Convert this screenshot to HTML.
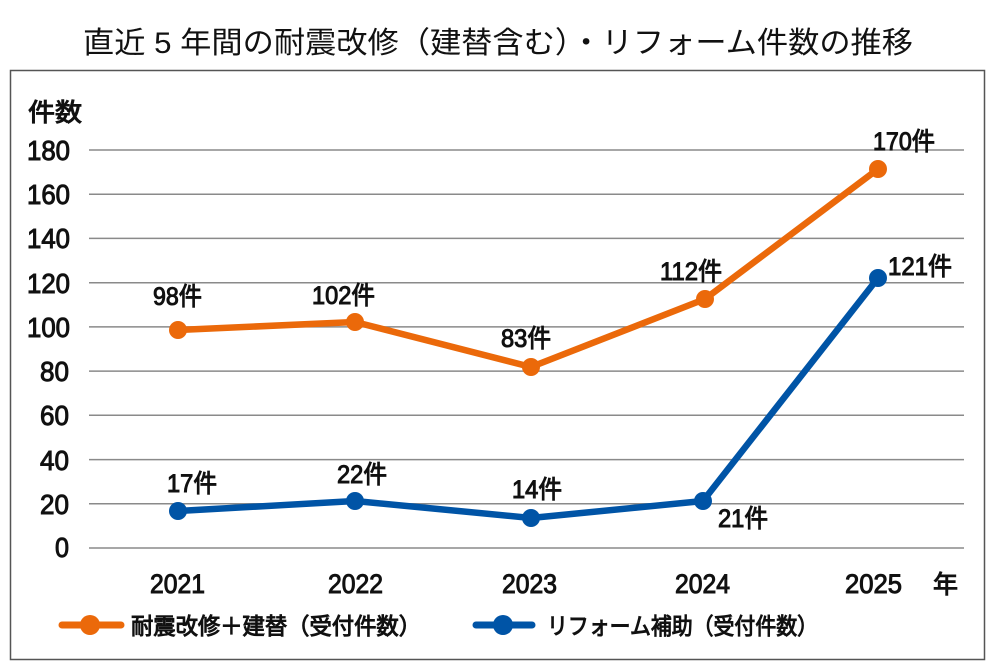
<!DOCTYPE html>
<html><head><meta charset="utf-8"><style>
html,body{margin:0;padding:0;background:#fff;}
svg{display:block;}
.t{font-family:"Liberation Sans","Noto Sans CJK JP",sans-serif;fill:#111;}
.m{stroke:#111;stroke-width:1.0;}
</style></head><body>
<svg width="1000" height="667" viewBox="0 0 1000 667" xmlns="http://www.w3.org/2000/svg">
<rect x="0" y="0" width="1000" height="667" fill="#fff"/>
<text class="t" x="83" y="53" font-size="30" textLength="830" lengthAdjust="spacingAndGlyphs" fill="#222">直近 5 年間の耐震改修（建替含む）・リフォーム件数の推移</text>
<rect x="10.5" y="70.5" width="974" height="589" fill="none" stroke="#555" stroke-width="1.5"/>
<g stroke="#8a8a8a" stroke-width="1.5">
<line x1="89" x2="964" y1="150" y2="150"/>
<line x1="89" x2="964" y1="194.2" y2="194.2"/>
<line x1="89" x2="964" y1="238.4" y2="238.4"/>
<line x1="89" x2="964" y1="282.7" y2="282.7"/>
<line x1="89" x2="964" y1="326.9" y2="326.9"/>
<line x1="89" x2="964" y1="371.1" y2="371.1"/>
<line x1="89" x2="964" y1="415.3" y2="415.3"/>
<line x1="89" x2="964" y1="459.6" y2="459.6"/>
<line x1="89" x2="964" y1="503.8" y2="503.8"/>
<line x1="89" x2="964" y1="548" y2="548"/>
</g>
<text class="t m" x="28" y="121" font-size="25" textLength="54" lengthAdjust="spacingAndGlyphs">件数</text>
<g class="t m" font-size="28">
<text x="27" y="160" textLength="43" lengthAdjust="spacingAndGlyphs">180</text>
<text x="27" y="204" textLength="43" lengthAdjust="spacingAndGlyphs">160</text>
<text x="27" y="248" textLength="43" lengthAdjust="spacingAndGlyphs">140</text>
<text x="27" y="293" textLength="43" lengthAdjust="spacingAndGlyphs">120</text>
<text x="27" y="337" textLength="43" lengthAdjust="spacingAndGlyphs">100</text>
<text x="40" y="381" textLength="29" lengthAdjust="spacingAndGlyphs">80</text>
<text x="40" y="425" textLength="29" lengthAdjust="spacingAndGlyphs">60</text>
<text x="40" y="470" textLength="29" lengthAdjust="spacingAndGlyphs">40</text>
<text x="40" y="514" textLength="29" lengthAdjust="spacingAndGlyphs">20</text>
<text x="55" y="557" textLength="14" lengthAdjust="spacingAndGlyphs">0</text>
</g>
<g class="t m" font-size="27">
<text x="150" y="593" textLength="55" lengthAdjust="spacingAndGlyphs">2021</text>
<text x="328" y="593" textLength="55" lengthAdjust="spacingAndGlyphs">2022</text>
<text x="502" y="593" textLength="55" lengthAdjust="spacingAndGlyphs">2023</text>
<text x="675" y="593" textLength="55" lengthAdjust="spacingAndGlyphs">2024</text>
<text x="845" y="593" textLength="57" lengthAdjust="spacingAndGlyphs">2025</text>
<text x="933" y="593" font-size="25">年</text>
</g>
<polyline points="178,330 355,322 531,367 705,299 878,169" fill="none" stroke="#EB690A" stroke-width="6.5" stroke-linejoin="round"/>
<g fill="#EB690A">
<circle cx="178" cy="330" r="9"/><circle cx="355" cy="322" r="9"/><circle cx="531" cy="367" r="9"/><circle cx="705" cy="299" r="9"/><circle cx="878" cy="169" r="9"/>
</g>
<polyline points="178,511 355,501 531,518 703,501 878,278" fill="none" stroke="#0054A6" stroke-width="6.5" stroke-linejoin="round"/>
<g fill="#0054A6">
<circle cx="178" cy="511" r="9"/><circle cx="355" cy="501" r="9"/><circle cx="531" cy="518" r="9"/><circle cx="703" cy="501" r="9"/><circle cx="878" cy="278" r="9"/>
</g>
<g class="t m" font-size="25">
<text x="153" y="305" textLength="49" lengthAdjust="spacingAndGlyphs">98件</text>
<text x="312" y="304" textLength="63" lengthAdjust="spacingAndGlyphs">102件</text>
<text x="501" y="347" textLength="50" lengthAdjust="spacingAndGlyphs">83件</text>
<text x="660" y="280" textLength="62" lengthAdjust="spacingAndGlyphs">112件</text>
<text x="873" y="150" textLength="62" lengthAdjust="spacingAndGlyphs">170件</text>
<text x="167" y="492" textLength="50" lengthAdjust="spacingAndGlyphs">17件</text>
<text x="337" y="483" textLength="50" lengthAdjust="spacingAndGlyphs">22件</text>
<text x="512" y="498" textLength="50" lengthAdjust="spacingAndGlyphs">14件</text>
<text x="718" y="527" textLength="50" lengthAdjust="spacingAndGlyphs">21件</text>
<text x="888" y="275" textLength="64" lengthAdjust="spacingAndGlyphs">121件</text>
</g>
<line x1="62" x2="121" y1="625" y2="625" stroke="#EB690A" stroke-width="7" stroke-linecap="round"/>
<circle cx="90" cy="625" r="10" fill="#EB690A"/>
<text class="t m" x="131" y="634" font-size="23" textLength="290" lengthAdjust="spacingAndGlyphs">耐震改修＋建替（受付件数）</text>
<line x1="476" x2="532" y1="625" y2="625" stroke="#0054A6" stroke-width="7" stroke-linecap="round"/>
<circle cx="503" cy="625" r="10" fill="#0054A6"/>
<text class="t m" x="547" y="634" font-size="23" textLength="271" lengthAdjust="spacingAndGlyphs">リフォーム補助（受付件数）</text>
</svg>
</body></html>
